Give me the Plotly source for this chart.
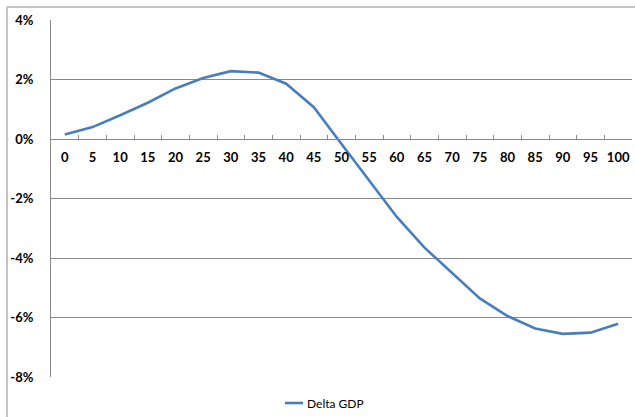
import plotly.graph_objects as go

# Change in GDP (%) for each scenario step
steps = ["0", "5", "10", "15", "20", "25", "30", "35", "40", "45", "50",
         "55", "60", "65", "70", "75", "80", "85", "90", "95", "100"]
delta_gdp = [0.15, 0.40, 0.80, 1.22, 1.70, 2.05, 2.28, 2.23, 1.86, 1.07, -0.17,
             -1.39, -2.62, -3.65, -4.50, -5.36, -5.95, -6.37, -6.55, -6.51, -6.21]

y_ticks = [-8, -6, -4, -2, 0, 2, 4]
y_tick_labels = ["-8%", "-6%", "-4%", "-2%", "0%", "2%", "4%"]
series_name = "Delta GDP"

W, H = 635, 417
L, R, T, B = 51, 3, 20, 40
PW, PH = W - L - R, H - T - B

GRID = "#898989"
BORDER = "#c4c4c4"
LINE = "#4a7ebb"
FONT = "Lato"

y_min, y_max = y_ticks[0], y_ticks[-1]


def px_x(px):
    return (px - L) / PW


def px_y(py):
    return (H - B - py) / PH


fig = go.Figure()
fig.add_trace(go.Scatter(
    x=steps, y=delta_gdp, mode="lines", name=series_name,
    line=dict(color=LINE, width=2.6), showlegend=False,
))

fig.update_layout(
    width=W, height=H,
    margin=dict(l=L, r=R, t=T, b=B),
    paper_bgcolor="white", plot_bgcolor="white",
    font=dict(family=FONT, color="#000000"),
    xaxis=dict(
        type="category", range=[-0.5, len(steps) - 0.5],
        anchor="free", position=(0 - y_min) / (y_max - y_min),
        showline=True, linecolor=GRID, linewidth=1,
        ticks="inside", ticklen=4, tickcolor=GRID, tickwidth=1,
        tickson="boundaries", showgrid=False, tickangle=0,
        tickfont=dict(family=FONT, size=13, color="#000000", weight="bold"),
        ticklabelstandoff=6,
    ),
    yaxis=dict(
        range=[y_min, y_max], tickvals=y_ticks, ticktext=y_tick_labels,
        showgrid=True, gridcolor=GRID, gridwidth=1, zeroline=False,
        showline=True, linecolor=GRID, linewidth=1, ticks="",
        tickfont=dict(family=FONT, size=13, color="#000000", weight="bold"),
        ticklabelstandoff=14,
    ),
    shapes=[
        # chart-area frame (left and top edges)
        dict(type="line", xref="paper", yref="paper",
             x0=px_x(7), x1=px_x(W + 2), y0=px_y(7), y1=px_y(7),
             line=dict(color=BORDER, width=2)),
        dict(type="line", xref="paper", yref="paper",
             x0=px_x(7), x1=px_x(7), y0=px_y(7), y1=px_y(H + 2),
             line=dict(color=BORDER, width=2)),
        # legend key
        dict(type="line", xref="paper", yref="paper",
             x0=px_x(285), x1=px_x(303), y0=px_y(403), y1=px_y(403),
             line=dict(color=LINE, width=2.6)),
    ],
    annotations=[
        dict(text=series_name, xref="paper", yref="paper",
             x=px_x(305), y=px_y(403), xanchor="left", yanchor="middle",
             showarrow=False, font=dict(family=FONT, size=12, color="#000000")),
    ],
)

fig.write_html("out.html")
